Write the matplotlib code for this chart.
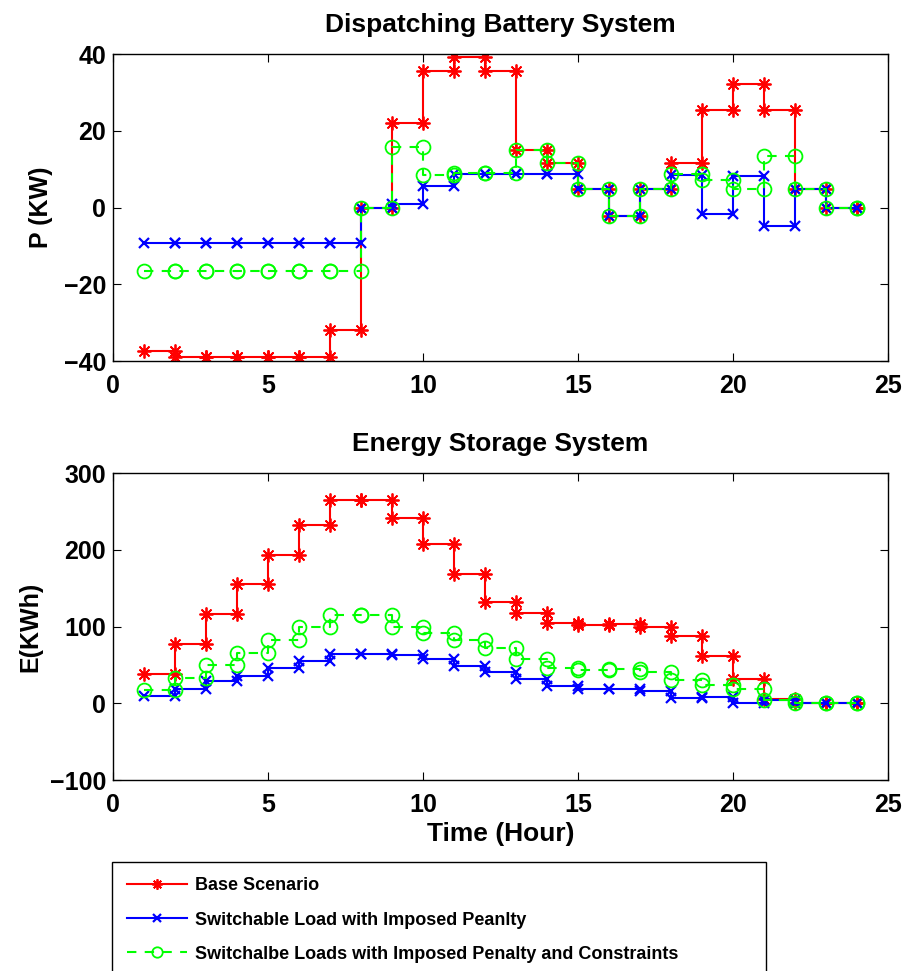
import numpy as np
import matplotlib
matplotlib.use("Agg")
from matplotlib import pyplot as plt

plt.rcParams['font.family'] = ['Liberation Sans', 'DejaVu Sans']
plt.rcParams['font.weight'] = 'bold'
plt.rcParams['axes.titleweight'] = 'bold'
plt.rcParams['axes.labelweight'] = 'bold'

hours = np.arange(1, 25)

# battery power (KW)
p_base = [-37.3, -39, -39, -39, -39, -39, -32, 0, 22, 35.5, 39.3, 35.5,
          15, 11.5, 4.7, -2.3, 4.7, 11.5, 25.3, 32.2, 25.3, 4.7, 0, 0]
p_switch = [-9.3, -9.3, -9.3, -9.3, -9.3, -9.3, -9.3, 0, 1.0, 5.5, 8.8, 8.8,
            8.7, 8.7, 4.7, -2.3, 4.7, 8.5, -1.7, 8.3, -4.8, 4.7, 0, 0]
p_constr = [-16.5, -16.5, -16.5, -16.5, -16.5, -16.5, -16.5, 0, 15.7, 8.5, 9.0, 9.0,
            15, 11.5, 4.7, -2.3, 4.7, 8.7, 7.2, 4.9, 13.3, 4.7, 0, 0]

# stored energy (KWh)
e_base = [37.5, 77, 116, 155, 193.5, 232, 265, 265, 242, 207, 168, 132,
          117, 105, 102, 103, 99, 88, 62, 31, 5, 0, 0, 0]
e_switch = [9.5, 18, 29, 36, 46, 55.6, 64.7, 64.7, 63.4, 58, 49, 40.5,
            32, 22.4, 19, 19, 16, 6.5, 8.2, 0, 4.7, 0, 0, 0]
e_constr = [17, 33, 49.6, 65.5, 82, 98.7, 114.7, 114.7, 99, 92, 82, 72,
            57.8, 46, 43, 45, 40.5, 30, 24, 18, 4.7, 0, 0, 0]

labels = ['Base Scenario',
          'Switchable Load with Imposed Peanlty',
          'Switchalbe Loads with Imposed Penalty and Constraints']


def stairs(x, y):
    # MATLAB-style stairs vertices, markers land on every corner
    x = np.asarray(x, float)
    y = np.asarray(y, float)
    return np.repeat(x, 2)[1:], np.repeat(y, 2)[:-1]


styles = [
    dict(color=(1, 0, 0), ls='-', marker=(8, 2, 0), ms=10, mew=1.3),
    dict(color=(0, 0, 1), ls='-', marker='x', ms=7, mew=1.6),
    dict(color=(0, 1, 0), ls=(0, (4.5, 4)), marker='o', ms=10, mew=1.3, mfc='none'),
]

fig = plt.figure(figsize=(9.08, 9.71), dpi=100)
ax1 = fig.add_axes([113/908, 1-361/971, 775/908, 307/971])
ax2 = fig.add_axes([113/908, 1-780/971, 775/908, 307/971])

handles = []
for ys, st, lab in zip([p_base, p_switch, p_constr], styles, labels):
    sx, sy = stairs(hours, ys)
    h, = ax1.plot(sx, sy, lw=1.5, label=lab, **st)
    handles.append(h)
for ys, st in zip([e_base, e_switch, e_constr], styles):
    sx, sy = stairs(hours, ys)
    ax2.plot(sx, sy, lw=1.5, **st)

ax1.set_xlim(0, 25)
ax1.set_ylim(-40, 40)
ax1.set_yticks([-40, -20, 0, 20, 40])
ax1.set_ylabel('P (KW)', fontsize=18, labelpad=8)
ax1.set_title('Dispatching Battery System', fontsize=19, pad=16)

ax2.set_xlim(0, 25)
ax2.set_ylim(-100, 300)
ax2.set_yticks([-100, 0, 100, 200, 300])
ax2.set_ylabel('E(KWh)', fontsize=18, labelpad=5)
ax2.set_xlabel('Time (Hour)', fontsize=19, labelpad=4)
ax2.set_title('Energy Storage System', fontsize=19, pad=16)

for ax in (ax1, ax2):
    ax.set_xticks([0, 5, 10, 15, 20, 25])
    ax.tick_params(direction='in', length=5.5, width=0.8, labelsize=18, pad=5,
                   top=True, right=True)
    ax.tick_params(axis='x', pad=9)
    for sp in ax.spines.values():
        sp.set_linewidth(1.0)

fig.legend(handles, labels, loc='upper left',
           bbox_to_anchor=(112/908, 0, 654/908, 1-862/971), mode='expand',
           numpoints=1, markerscale=0.75, fontsize=13, handlelength=3.3,
           handletextpad=0.45, labelspacing=0.95, borderpad=0.85, borderaxespad=0,
           fancybox=False, edgecolor='black', framealpha=1)

fig.savefig('out.png', dpi=100)
